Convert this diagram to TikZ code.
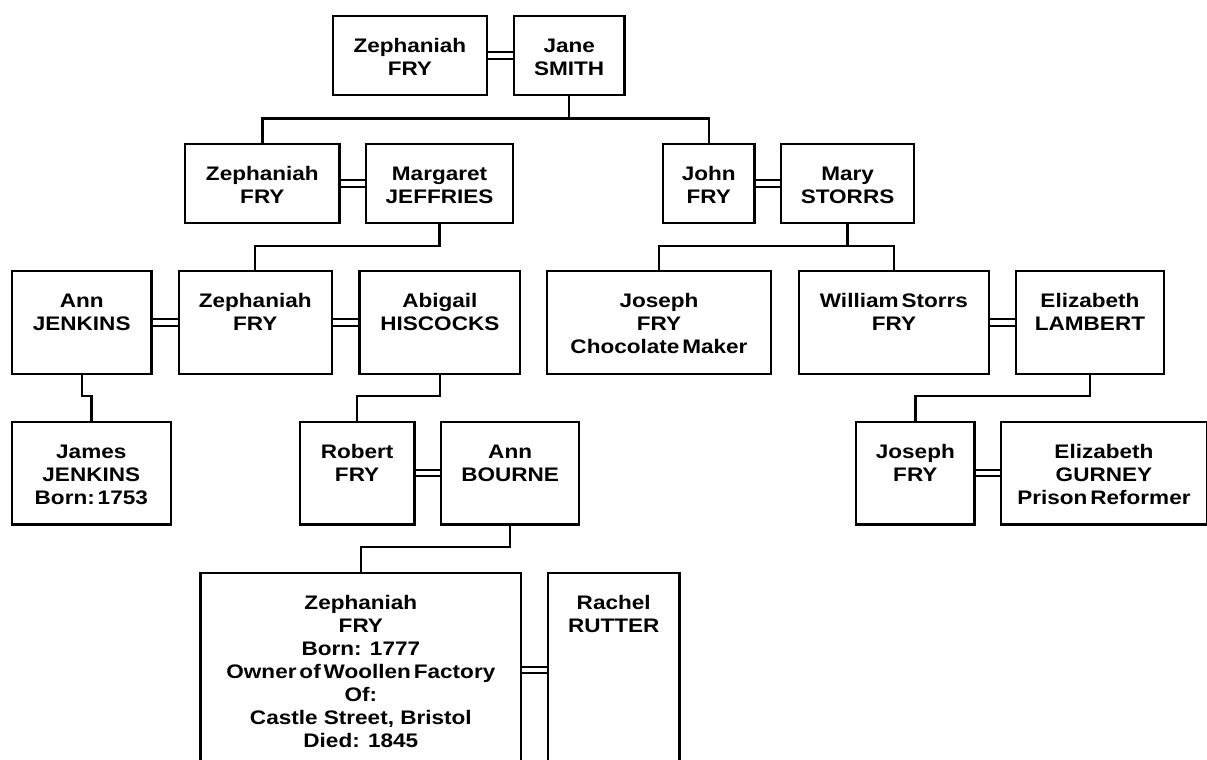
\documentclass[tikz,border=0pt]{standalone}
\usepackage{fontspec}
\newfontfamily\tfont{Liberation Sans}[FakeStretch=1.15]
\newcommand\tsp{\hspace{0.15em}}
\tikzset{
  box/.style={draw, line width=2.4pt, inner sep=0pt, anchor=north west, rectangle},
  txt/.style={anchor=north, inner sep=0pt, align=center, font=\tfont\bfseries\fontsize{19.6}{23}\selectfont},
  conn/.style={draw, line width=2.4pt},
  wed/.style={draw, line width=2pt, double=white, double distance=4.5pt}
}
\newcommand\pbox[6]{%
  \node[box, minimum width=#4pt, minimum height=#5pt] (#1) at (#2,#3) {};
  \node[txt] (#1t) at ([yshift=-21.1pt]#1.north) {\strut #6};
}
\begin{document}
\begin{tikzpicture}[x=1pt,y=-1pt]
\useasboundingbox (0,0) rectangle (1207,760);
\fill[white] (0,0) rectangle (1207,760);
\clip (0,0) rectangle (1207,760);
% row 1
\pbox{z1}{331.7}{15}{154}{79}{Zephaniah\\FRY}
\pbox{jane}{512.7}{15}{110.6}{79}{Jane\\SMITH}
% row 2
\pbox{z2}{184}{142.7}{154.3}{79}{Zephaniah\\FRY}
\pbox{marg}{365}{142.7}{146.7}{79}{Margaret\\JEFFRIES}
\pbox{john}{661.7}{142.7}{91.6}{79}{John\\FRY}
\pbox{mary}{780}{142.7}{132.7}{79}{Mary\\STORRS}
% row 3
\pbox{ann}{10.8}{270}{139.4}{103}{Ann\\JENKINS}
\pbox{z3}{177.5}{270}{153.1}{103}{Zephaniah\\FRY}
\pbox{abig}{358.3}{270}{160.7}{103}{Abigail\\HISCOCKS}
\pbox{jos}{546}{270}{223.6}{103}{Joseph\\FRY\\Chocolate\tsp Maker}
\pbox{will}{797.7}{270}{190}{103}{William\tsp Storrs\\FRY}
\pbox{lamb}{1014.9}{270}{147.7}{103}{Elizabeth\\LAMBERT}
% row 4
\pbox{james}{10.7}{420.7}{158.8}{102.6}{James\\JENKINS\\Born:\tsp 1753}
\pbox{rob}{298.5}{420.7}{114.8}{102.6}{Robert\\FRY}
\pbox{bourne}{440}{420.7}{137.9}{102.6}{Ann\\BOURNE}
\pbox{jos2}{855}{420.7}{118.3}{102.6}{Joseph\\FRY}
\pbox{gurney}{1000}{420.7}{205.5}{102.6}{Elizabeth\\GURNEY\\Prison\tsp Reformer}
% row 5
\pbox{z5}{199.3}{571.7}{320.7}{194.6}{Zephaniah\\FRY\\Born: 1777\\Owner\tsp of\tsp Woollen\tsp Factory\\Of:\\Castle Street, Bristol\\Died: 1845}
\pbox{rachel}{546.7}{571.7}{131.6}{194.6}{Rachel\\RUTTER}
% marriage lines
\draw[wed] (z1) -- (jane);
\draw[wed] (z2) -- (marg);
\draw[wed] (john) -- (mary);
\draw[wed] (ann) -- (z3);
\draw[wed] (z3) -- (abig);
\draw[wed] (will) -- (lamb);
\draw[wed] (rob) -- (bourne);
\draw[wed] (jos2) -- (gurney);
\draw[wed] (z5) -- (rachel);
% mid levels
\coordinate (m1) at (0,118.3);
\coordinate (m2) at (0,245.7);
\coordinate (m3) at (0,395.7);
\coordinate (m4) at (0,546.7);
% descent lines
\draw[conn] (jane.south) -- (jane.south |- m1);
\draw[conn] (z2.north) |- (jane.south |- m1) -| (john.north);
\draw[conn] (marg.south) -- (marg.south |- m2) -| (z3.north);
\draw[conn] (mary.south) -- (mary.south |- m2);
\draw[conn] (jos.north) |- (mary.south |- m2) -| (will.north);
\draw[conn] (ann.south) -- (ann.south |- m3) -| (james.north);
\draw[conn] (abig.south) -- (abig.south |- m3) -| (rob.north);
\draw[conn] (lamb.south) -- (lamb.south |- m3) -| (jos2.north);
\draw[conn] (bourne.south) -- (bourne.south |- m4) -| (z5.north);
\end{tikzpicture}
\end{document}
